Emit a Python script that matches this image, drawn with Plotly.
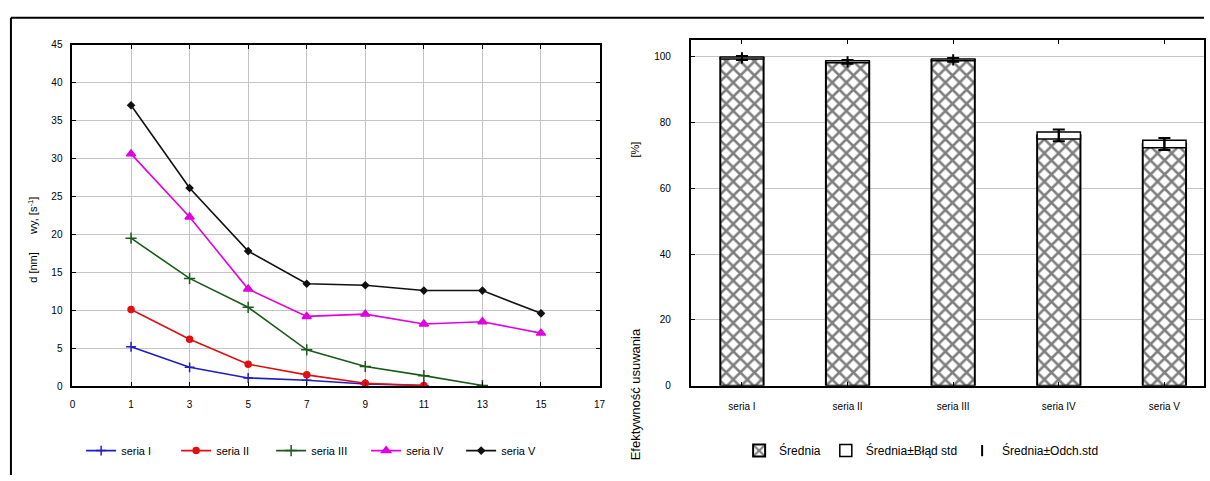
import plotly.graph_objects as go

# ---------------- data: left line chart ----------------
x_labels = ["0", "1", "3", "5", "7", "9", "11", "13", "15", "17"]
x_points = ["1", "3", "5", "7", "9", "11", "13", "15"]
seria_I = [5.2, 2.5, 1.1, 0.8, 0.3, 0.1, None, None]
seria_II = [10.1, 6.2, 2.9, 1.5, 0.4, 0.1, None, None]
seria_III = [19.5, 14.2, 10.4, 4.8, 2.6, 1.4, 0.1, None]
seria_IV = [30.6, 22.3, 12.8, 9.2, 9.5, 8.2, 8.5, 7.0]
seria_V = [37.0, 26.1, 17.8, 13.5, 13.3, 12.6, 12.6, 9.6]
series_names = ["seria I", "seria II", "seria III", "seria IV", "seria V"]
left_y_ticks = [0, 5, 10, 15, 20, 25, 30, 35, 40, 45]

# ---------------- data: right bar chart ----------------
bar_categories = ["seria I", "seria II", "seria III", "seria IV", "seria V"]
srednia = [99.6, 98.4, 99.0, 76.05, 73.45]
blad_std = [0.3, 0.3, 0.3, 1.05, 1.15]
odch_std = [0.6, 0.6, 0.6, 1.8, 1.8]
right_y_ticks = [0, 20, 40, 60, 80, 100]

FONT = "Liberation Sans, Arial, sans-serif"
W, H = 1210, 481

fig = go.Figure()

styles = [
    dict(color="#1f1fbf", symbol="cross-thin", size=7),
    dict(color="#e01010", symbol="circle", size=6),
    dict(color="#1a5a1a", symbol="cross-thin", size=8),
    dict(color="#e000e0", symbol="triangle-up", size=8),
    dict(color="#111111", symbol="diamond", size=5),
]
for name, vals, st in zip(series_names, [seria_I, seria_II, seria_III, seria_IV, seria_V], styles):
    fig.add_trace(go.Scatter(
        x=x_points, y=vals, name=name, mode="lines+markers",
        line=dict(color=st["color"], width=1.6),
        marker=dict(color=st["color"], symbol=st["symbol"], size=st["size"],
                    line=dict(color=st["color"], width=1.5)),
        xaxis="x", yaxis="y", legend="legend", connectgaps=False,
    ))

# right chart
fig.add_trace(go.Bar(
    x=bar_categories, y=srednia, name="Średnia", width=0.41,
    marker=dict(color="white", line=dict(color="black", width=2),
                pattern=dict(shape="x", fgcolor="black", bgcolor="white", size=10, solidity=0.45)),
    xaxis="x2", yaxis="y2", legend="legend2",
))
fig.add_trace(go.Bar(
    x=bar_categories, y=[2 * s for s in blad_std],
    base=[m - s for m, s in zip(srednia, blad_std)],
    name="Średnia±Błąd std", width=0.41,
    marker=dict(color="white", line=dict(color="black", width=1.5)),
    xaxis="x2", yaxis="y2", legend="legend2",
))
fig.add_trace(go.Scatter(
    x=bar_categories, y=srednia, name="Średnia±Odch.std", mode="markers",
    marker=dict(symbol="line-ns", size=8, color="black", line=dict(color="black", width=2)),
    error_y=dict(type="data", array=odch_std, color="black", thickness=2, width=6),
    xaxis="x2", yaxis="y2", legend="legend2",
))

tickfont = dict(family=FONT, size=10, color="black")
grid = "#c4c4c4"

fig.update_layout(
    width=W, height=H,
    margin=dict(l=0, r=0, t=0, b=0),
    paper_bgcolor="white", plot_bgcolor="white",
    barmode="overlay",
    font=dict(family=FONT, size=10, color="black"),
    xaxis=dict(
        domain=[70 / W, 601 / W], anchor="y",
        type="category", categoryorder="array", categoryarray=x_labels,
        range=[0, 9], tickmode="array", tickvals=x_labels, ticktext=x_labels,
        showgrid=True, gridcolor=grid, gridwidth=1,
        showline=True, linecolor="black", linewidth=2, mirror="ticks",
        ticks="inside", ticklen=4, tickcolor="black",
        tickfont=tickfont, ticklabelstandoff=8, zeroline=False,
    ),
    yaxis=dict(
        domain=[1 - 390 / H, 1 - 39.5 / H], anchor="x",
        range=[0, 45], tickvals=left_y_ticks,
        showgrid=True, gridcolor=grid, gridwidth=1,
        showline=True, linecolor="black", linewidth=2, mirror="ticks",
        ticks="inside", ticklen=4, tickcolor="black",
        tickfont=tickfont, ticklabelstandoff=6, zeroline=False,
    ),
    xaxis2=dict(
        domain=[693 / W, 1.0], anchor="y2",
        type="category", range=[-0.484, 4.375],
        showgrid=False,
        showline=True, linecolor="black", linewidth=2, mirror="ticks",
        ticks="inside", ticklen=4, tickcolor="black",
        tickfont=tickfont, ticklabelstandoff=10, zeroline=False,
    ),
    yaxis2=dict(
        domain=[1 - 389.5 / H, 1 - 35 / H], anchor="x2",
        range=[0, 105], tickvals=right_y_ticks,
        showgrid=True, gridcolor=grid, gridwidth=1,
        showline=True, linecolor="black", linewidth=2, mirror=True,
        ticks="inside", ticklen=4, tickcolor="black",
        tickfont=tickfont, ticklabelstandoff=16, zeroline=False,
    ),
    legend=dict(
        orientation="h", x=318 / W, xanchor="center", y=1 - 456 / H, yanchor="middle",
        font=dict(family=FONT, size=11, color="black"), bgcolor="rgba(0,0,0,0)",
        itemwidth=30, entrywidth=50, entrywidthmode="pixels",
    ),
    legend2=dict(
        orientation="h", x=925 / W, xanchor="center", y=1 - 456 / H, yanchor="middle",
        font=dict(family=FONT, size=12, color="black"), bgcolor="rgba(0,0,0,0)",
        itemwidth=30,
    ),
    showlegend=True,
)

# y-axis titles
fig.add_annotation(
    x=30 / W, y=1 - 240 / H, xref="paper", yref="paper", xanchor="center", yanchor="middle",
    text="d [nm]      wy, [s<sup>-1</sup>]", textangle=-90, showarrow=False,
    font=dict(family=FONT, size=11, color="black"),
)
fig.add_annotation(
    x=637 / W, y=1 - 147 / H, xref="paper", yref="paper", xanchor="center", yanchor="middle",
    text="[%]", textangle=-90, showarrow=False,
    font=dict(family=FONT, size=11, color="black"),
)
fig.add_annotation(
    x=637 / W, y=1 - 398 / H, xref="paper", yref="paper", xanchor="center", yanchor="middle",
    text="Efektywność usuwania", textangle=-90, showarrow=False,
    font=dict(family=FONT, size=13, color="black"),
)

# outer frame (top and left edges)
fig.add_shape(type="line", xref="paper", yref="paper",
              x0=8 / W, x1=1.0, y0=1 - 12 / H, y1=1 - 12 / H,
              line=dict(color="black", width=2))
fig.add_shape(type="line", xref="paper", yref="paper",
              x0=8 / W, x1=8 / W, y0=0, y1=1 - 12 / H,
              line=dict(color="black", width=2))

fig.write_html(
    "out.html",
    config={"displayModeBar": False},
    post_script="document.body.style.margin='0';document.body.style.overflow='hidden';",
)
